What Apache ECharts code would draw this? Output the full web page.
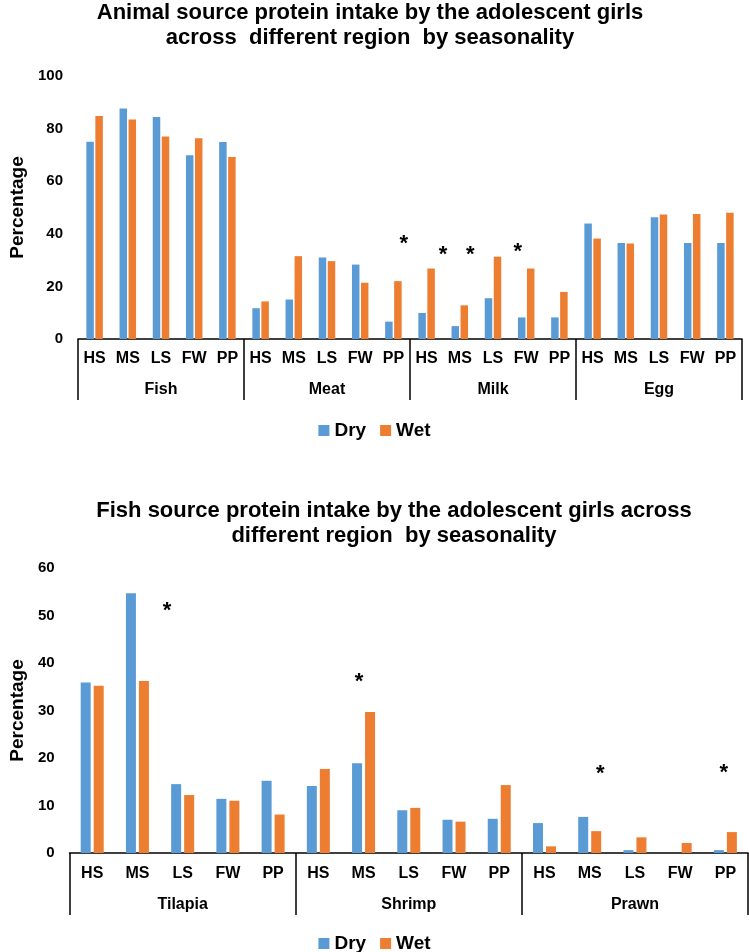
<!DOCTYPE html>
<html>
<head>
<meta charset="utf-8">
<script src="https://cdn.jsdelivr.net/npm/echarts@6/dist/echarts.min.js"></script>
<style>
  html, body { margin: 0; padding: 0; background: #fff; }
  #chart { width: 749px; height: 952px; }
</style>
</head>
<body>
<div id="chart"></div>
<script>
const regions = ['HS', 'MS', 'LS', 'FW', 'PP']
const animalGroups = ['Fish', 'Meat', 'Milk', 'Egg']
const animalDry = [75, 87.6, 84.4, 69.9, 74.9, 11.7, 15.0, 31.0, 28.3, 6.6, 9.9, 4.9, 15.5, 8.2, 8.2, 43.9, 36.5, 46.3, 36.5, 36.5]
const animalWet = [84.8, 83.5, 77.0, 76.3, 69.2, 14.3, 31.5, 29.6, 21.4, 22.0, 26.8, 12.8, 31.3, 26.8, 17.9, 38.2, 36.3, 47.3, 47.5, 48.0]
// significance marks: [category index, height]
const animalStars = [[9, 38], [10, 34], [11, 34], [13, 35]]

const fishGroups = ['Tilapia', 'Shrimp', 'Prawn']
const fishDry = [35.9, 54.7, 14.5, 11.4, 15.2, 14.1, 18.9, 9.0, 7.0, 7.2, 6.3, 7.6, 0.6, 0, 0.6]
const fishWet = [35.2, 36.2, 12.2, 11.0, 8.1, 17.7, 29.7, 9.5, 6.6, 14.3, 1.4, 4.6, 3.3, 2.1, 4.4]
const fishStars = [[1, 52], [6, 37], [11, 17.7], [14, 18]]

const animalTicks = [0, 20, 40, 60, 80, 100]
const fishTicks = [0, 10, 20, 30, 40, 50, 60]

const DRY = '#5B9BD5'
const WET = '#ED7D31'
const FONT = '"Liberation Sans", Arial, sans-serif'

// nudges of the star labels, px
const animalStarShift = [6, 12, 6, -13]
const fishStarShift = [23, -11, 4, -8]

const chart = echarts.init(document.getElementById('chart'))

function catAxis(gridIndex, groups, margin) {
  return {
    type: 'category',
    gridIndex: gridIndex,
    position: 'bottom',
    data: groups.flatMap(() => regions),
    axisLine: { lineStyle: { color: '#000', width: 1.5 } },
    axisTick: { show: false },
    axisLabel: { interval: 0, margin: margin, color: '#000', fontFamily: FONT, fontWeight: 'bold', fontSize: 16 }
  }
}

function groupAxis(gridIndex, groups, margin, tickLen) {
  return {
    type: 'category',
    gridIndex: gridIndex,
    position: 'bottom',
    data: groups,
    axisLine: { show: false },
    axisTick: { show: true, length: tickLen, lineStyle: { color: '#000', width: 1.5 } },
    axisLabel: { interval: 0, margin: margin, color: '#000', fontFamily: FONT, fontWeight: 'bold', fontSize: 16 }
  }
}

function valAxis(gridIndex, ticks, nameGap) {
  return {
    type: 'value',
    gridIndex: gridIndex,
    min: ticks[0],
    max: ticks[ticks.length - 1],
    interval: ticks[1] - ticks[0],
    name: 'Percentage',
    nameLocation: 'middle',
    nameGap: nameGap,
    nameTextStyle: { color: '#000', fontFamily: FONT, fontWeight: 'bold', fontSize: 19 },
    axisLine: { show: false },
    axisTick: { show: false },
    splitLine: { show: false },
    axisLabel: { margin: 15, color: '#000', fontFamily: FONT, fontWeight: 'bold', fontSize: 15 }
  }
}

function starPoints(stars, shift) {
  return {
    symbol: 'circle',
    symbolSize: 1,
    itemStyle: { color: 'rgba(0,0,0,0)' },
    label: { show: true, formatter: '*', color: '#000', fontFamily: FONT, fontSize: 22, fontWeight: 'bold' },
    data: stars.map((s, i) => ({
      coord: [s[0], s[1]],
      label: { offset: [shift[i], 5] }
    }))
  }
}

function bars(name, data, color, x, y, width, gap, marks) {
  const s = {
    name: name,
    type: 'bar',
    xAxisIndex: x,
    yAxisIndex: y,
    data: data,
    barWidth: width,
    barGap: gap,
    itemStyle: { color: color }
  }
  if (marks) s.markPoint = marks
  return s
}

const titleStyle = { color: '#000', fontFamily: FONT, fontWeight: 'bold', fontSize: 22, lineHeight: 24.5 }
const legendText = { color: '#000', fontFamily: FONT, fontWeight: 'bold', fontSize: 19 }

chart.setOption({
  animation: false,
  title: [
    {
      text: 'Animal source protein intake by the adolescent girls\nacross  different region  by seasonality',
      left: 370, top: 1, textAlign: 'center', padding: 0,
      textStyle: titleStyle
    },
    {
      text: 'Fish source protein intake by the adolescent girls across\ndifferent region  by seasonality',
      left: 394, top: 499, textAlign: 'center', padding: 0,
      textStyle: titleStyle
    }
  ],
  legend: [
    {
      data: ['Dry', 'Wet'], left: 'center', top: 416,
      itemWidth: 11, itemHeight: 11, itemGap: 14, icon: 'rect',
      textStyle: legendText
    },
    {
      data: ['Dry', 'Wet'], left: 'center', top: 929,
      itemWidth: 11, itemHeight: 11, itemGap: 14, icon: 'rect',
      textStyle: legendText
    }
  ],
  grid: [
    { left: 74, right: 7, top: 76, height: 263 },
    { left: 61, right: 1, top: 568, height: 285 }
  ],
  xAxis: [
    catAxis(0, animalGroups, 12),
    groupAxis(0, animalGroups, 43, 61),
    catAxis(1, fishGroups, 13),
    groupAxis(1, fishGroups, 44, 62)
  ],
  yAxis: [
    valAxis(0, animalTicks, 51),
    valAxis(1, fishTicks, 42)
  ],
  series: [
    bars('Dry', animalDry, DRY, 0, 0, 7.5, '20%'),
    bars('Wet', animalWet, WET, 0, 0, 7.5, '20%', starPoints(animalStars, animalStarShift)),
    bars('Dry', fishDry, DRY, 2, 1, 10, '30%'),
    bars('Wet', fishWet, WET, 2, 1, 10, '30%', starPoints(fishStars, fishStarShift))
  ]
})
</script>
</body>
</html>
